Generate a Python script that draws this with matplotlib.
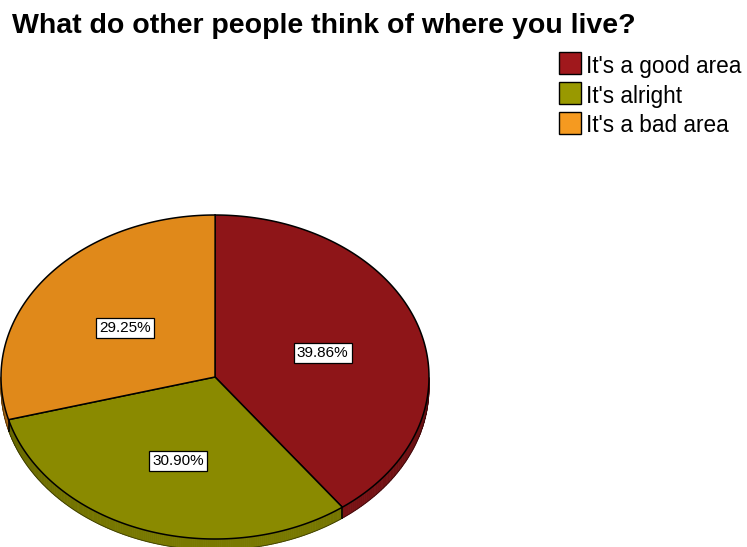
import numpy as np
import matplotlib.pyplot as plt
from matplotlib.patches import Polygon, Rectangle

plt.rcParams['font.family'] = ['Liberation Sans', 'DejaVu Sans']

title = "What do other people think of where you live?"
categories = ["It's a good area", "It's alright", "It's a bad area"]
percents = [39.86, 30.90, 29.25]
top_colors = ['#8e1518', '#8a8a00', '#e0891a']
legend_colors = ['#a0181c', '#999900', '#f59a20']

W, H = 747, 547
fig = plt.figure(figsize=(W / 100, H / 100), dpi=100)
ax = fig.add_axes([0, 0, 1, 1])
ax.set_xlim(0, W)
ax.set_ylim(H, 0)
ax.axis('off')

# pie geometry (tilted disc)
cx, cy, rx, ry, depth = 215, 377, 214, 162, 11


def ell(t):
    return cx + rx * np.cos(t), cy - ry * np.sin(t)


def shade(color, f):
    c = np.array(plt.matplotlib.colors.to_rgb(color))
    return tuple(np.clip(c * f, 0, 1))


shares = np.array(percents) / 100.0
bounds = 90 - 360 * np.concatenate([[0], np.cumsum(shares)])

# side wall first (only the front half is visible)
for i, col in enumerate(top_colors):
    a0, a1 = np.radians(bounds[i]), np.radians(bounds[i + 1])
    ts = np.linspace(a0, a1, 200)
    for t0, t1 in zip(ts[:-1], ts[1:]):
        if np.sin((t0 + t1) / 2) >= 0:
            continue
        x0, y0 = ell(t0)
        x1, y1 = ell(t1)
        f = 0.7 + 0.18 * abs(np.sin((t0 + t1) / 2))
        ax.add_patch(Polygon([(x0, y0), (x1, y1), (x1, y1 + depth), (x0, y0 + depth)],
                             closed=True, fc=shade(col, f), ec=shade(col, f), lw=0.6))
    # dark seam where a slice edge meets the front wall
    if np.sin(a0) < 0:
        x0, y0 = ell(a0)
        ax.plot([x0, x0], [y0, y0 + depth], color='black', lw=1.2)

# outline of the wall bottom
tb = np.linspace(np.pi, 2 * np.pi, 300)
xb, yb = ell(tb)
ax.plot(xb, yb + depth, color='black', lw=0.6, alpha=0.5)

# top faces
for i, col in enumerate(top_colors):
    ts = np.linspace(np.radians(bounds[i]), np.radians(bounds[i + 1]), 200)
    xs, ys = ell(ts)
    pts = [(cx, cy)] + list(zip(xs, ys))
    ax.add_patch(Polygon(pts, closed=True, fc=col, ec='black', lw=1.1))

# percentage labels
for i, p in enumerate(percents):
    mid = np.radians((bounds[i] + bounds[i + 1]) / 2)
    lx = cx + 0.53 * rx * np.cos(mid)
    ly = cy - 0.53 * ry * np.sin(mid) + 3
    ax.text(lx, ly, f'{p:.2f}%', ha='center', va='center', fontsize=11,
            bbox=dict(boxstyle='square,pad=0.2', fc='white', ec='black', lw=0.9))

# title
ax.text(12, 26, title, ha='left', va='center', fontsize=20.5, fontweight='bold')

# legend
for i, (lab, col) in enumerate(zip(categories, legend_colors)):
    y = 52 + 30 * i
    ax.add_patch(Rectangle((559, y), 22, 22, fc=col, ec='black', lw=1.0))
    ax.text(586, y + 14, lab, ha='left', va='center', fontsize=16.3)

fig.savefig('out.png', dpi=100)
